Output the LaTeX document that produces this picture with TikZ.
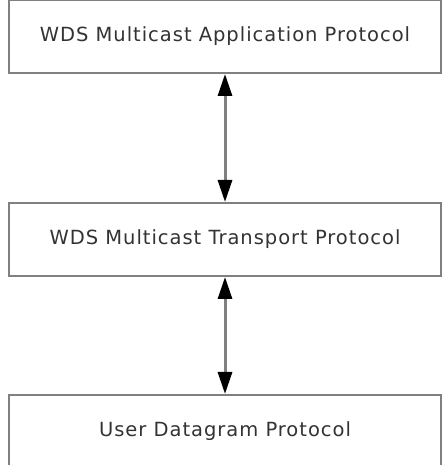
\documentclass[tikz,border=0pt]{standalone}
\usepackage{fontspec}
\setmainfont{DejaVu Sans}[LetterSpace=5]
\usetikzlibrary{arrows.meta}

\begin{document}
\begin{tikzpicture}[x=1pt,y=1pt,
  layer/.style={draw=black!50,line width=2pt,fill=white,minimum width=432pt,minimum height=73pt,inner sep=0pt,text=black!80,font=\fontsize{19.5}{23}\selectfont},
  link/.style={draw=black!50,line width=3pt,{Triangle[length=22pt,width=14pt,color=black]}-{Triangle[length=22pt,width=14pt,color=black]}}]
\useasboundingbox (0,0) rectangle (442,465);
\node[layer] (app) at (225,428.5) {WDS Multicast Application Protocol};
\node[layer] (mtp) at (225,225.5) {WDS Multicast Transport Protocol};
\node[layer] (udp) at (225,33.5) {User Datagram Protocol};
\draw[link] (app.south) -- (mtp.north);
\draw[link] (mtp.south) -- (udp.north);
\end{tikzpicture}
\end{document}
